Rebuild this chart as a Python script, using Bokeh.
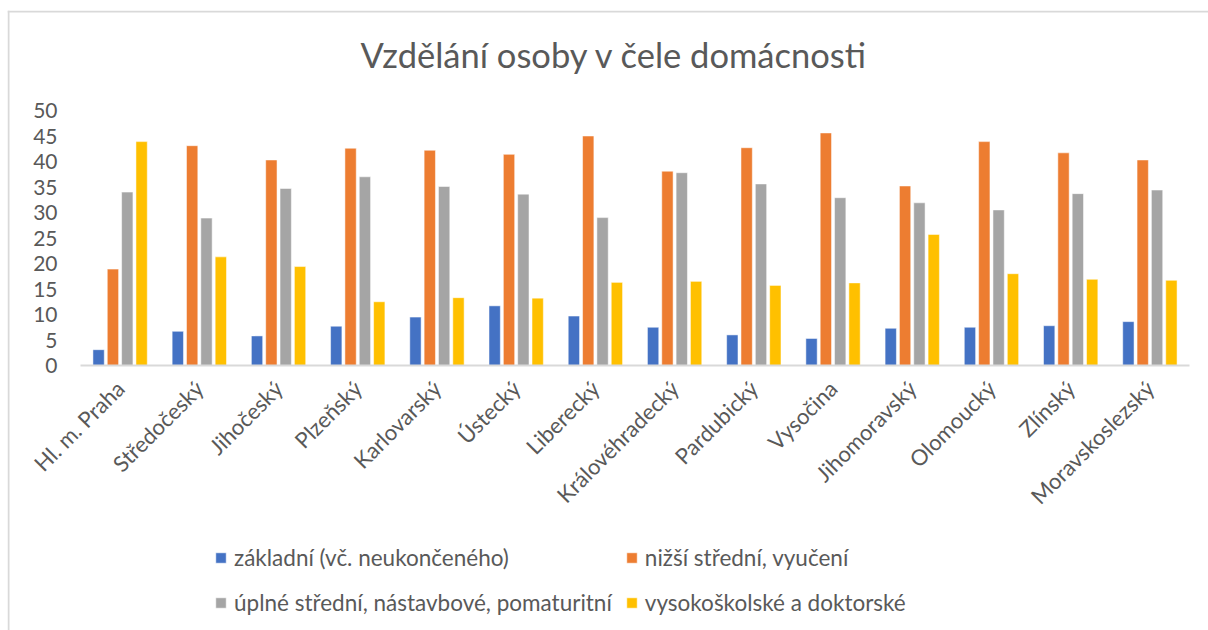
import math
from bokeh.plotting import figure
from bokeh.models import ColumnDataSource, Legend, LegendItem, Label, FixedTicker, Span
from bokeh.embed import file_html
from bokeh.resources import INLINE

# ---- data ----
regions = ["Hl. m. Praha", "Středočeský", "Jihočeský", "Plzeňský", "Karlovarský",
           "Ústecký", "Liberecký", "Královéhradecký", "Pardubický", "Vysočina",
           "Jihomoravský", "Olomoucký", "Zlínský", "Moravskoslezský"]
zakladni = [3.1, 6.7, 5.8, 7.7, 9.5, 11.7, 9.7, 7.5, 6.0, 5.3, 7.3, 7.5, 7.8, 8.6]
nizsi_stredni = [18.9, 43.1, 40.3, 42.6, 42.2, 41.4, 45.0, 38.1, 42.7, 45.6, 35.2, 43.9, 41.7, 40.3]
uplne_stredni = [34.0, 28.9, 34.7, 37.0, 35.1, 33.6, 29.0, 37.8, 35.6, 32.9, 31.9, 30.5, 33.7, 34.4]
vysokoskolske = [43.9, 21.3, 19.4, 12.5, 13.3, 13.2, 16.3, 16.5, 15.7, 16.2, 25.7, 18.0, 16.9, 16.7]
series_names = ["základní (vč. neukončeného)", "nižší střední, vyučení",
                "úplné střední, nástavbové, pomaturitní", "vysokoškolské a doktorské"]
series_keys = ["zakladni", "nizsi", "uplne", "vysoko"]
colors = ["#4472C4", "#ED7D31", "#A5A5A5", "#FFC000"]
y_ticks = [0, 5, 10, 15, 20, 25, 30, 35, 40, 45, 50]
title_text = "Vzdělání osoby v čele domácnosti"

FONT = "Lato"
TXT = "#595959"
BORDER = "#D9D9D9"

n = len(regions)
pos = list(range(n))

# ---- layout (pixels) ----
W, H = 1208, 630
FRAME_L, FRAME_T = 7, 10          # frame covers the whole chart box
PLOT_L, PLOT_R = 80, 1189         # plot area (category axis extent)
Y0_PX, PX_PER_UNIT = 365, 5.1     # value 0 position and vertical scale
cat_px = (PLOT_R - PLOT_L) / n


def x_at(px):
    return (px - PLOT_L) / cat_px - 0.5


def y_at(py):
    return (Y0_PX - py) / PX_PER_UNIT


p = figure(x_range=(x_at(FRAME_L), x_at(W)), y_range=(y_at(H), y_at(FRAME_T)),
           width=W, height=H, output_backend="svg", toolbar_location=None,
           min_border_left=FRAME_L, min_border_right=0, min_border_top=FRAME_T,
           min_border_bottom=0, title=None)
p.outline_line_color = None
p.background_fill_color = "white"
p.border_fill_color = "white"

# chart border (left and top edges only; the rest is cut off in the original)
p.add_layout(Span(location=x_at(FRAME_L + 1), dimension="height",
                  line_color=BORDER, line_width=2))
p.add_layout(Span(location=y_at(FRAME_T + 1), dimension="width",
                  line_color=BORDER, line_width=2))

step = 0.181
bw = 0.143
renderers = []
for i, (k, c, vals) in enumerate(zip(series_keys, colors,
                                     [zakladni, nizsi_stredni, uplne_stredni, vysokoskolske])):
    off = (i - 1.5) * step
    s = ColumnDataSource(dict(x=[v + off for v in pos], top=vals))
    r = p.vbar(x="x", top="top", width=bw, source=s,
               fill_color=c, line_color="white", line_alpha=0.5, line_width=1)
    renderers.append(r)

title = Label(x=x_at(614), y=y_at(54), text=title_text, text_align="center",
              text_baseline="middle", text_font=FONT, text_font_size="34.5px",
              text_color=TXT)
p.add_layout(title)

p.xgrid.grid_line_color = None
p.ygrid.grid_line_color = None

p.yaxis.fixed_location = -0.5
p.yaxis.bounds = (0, 50)
p.yaxis.ticker = FixedTicker(ticks=y_ticks)
p.yaxis.axis_line_color = None
p.yaxis.major_tick_line_color = None
p.yaxis.minor_tick_line_color = None
p.yaxis.major_tick_out = 0
p.yaxis.major_tick_in = 0
p.yaxis.major_label_standoff = 23
p.yaxis.major_label_text_font = FONT
p.yaxis.major_label_text_font_size = "21px"
p.yaxis.major_label_text_color = TXT

p.xaxis.fixed_location = 0
p.xaxis.bounds = (-0.5, n - 0.5)
p.xaxis.ticker = FixedTicker(ticks=pos)
p.xaxis.major_label_overrides = {i: name for i, name in enumerate(regions)}
p.xaxis.axis_line_color = BORDER
p.xaxis.axis_line_width = 2
p.xaxis.major_tick_line_color = None
p.xaxis.minor_tick_line_color = None
p.xaxis.major_tick_out = 0
p.xaxis.major_tick_in = 0
p.xaxis.major_label_orientation = math.pi / 4
p.xaxis.major_label_standoff = 19
p.xaxis.major_label_text_font = FONT
p.xaxis.major_label_text_font_size = "22px"
p.xaxis.major_label_text_color = TXT

legend = Legend(items=[LegendItem(label=nm, renderers=[r]) for nm, r in zip(series_names, renderers)],
                location=(207, 12), orientation="horizontal", ncols=2,
                padding=0, margin=0, border_line_color=None, background_fill_alpha=0,
                label_text_font=FONT, label_text_font_size="22.5px", label_text_color=TXT,
                glyph_width=13, glyph_height=13, label_standoff=7, spacing=13,
                label_height=32, label_width=20)
p.add_layout(legend, "center")

open("out.html", "w").write(file_html(p, INLINE))
